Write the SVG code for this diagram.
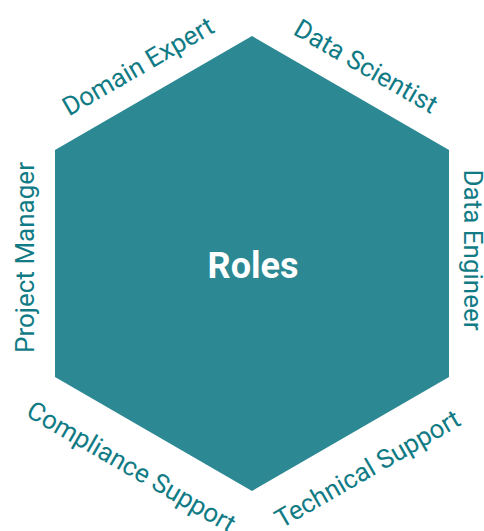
<svg xmlns="http://www.w3.org/2000/svg" width="484" height="531" viewBox="0 0 484 531">
<style>
.lbl{font-family:Roboto,"Liberation Sans",sans-serif;font-size:26px;fill:#117b85;text-anchor:middle}
.ctr{font-family:Roboto,"Liberation Sans",sans-serif;font-size:36px;font-weight:bold;fill:#ffffff;text-anchor:middle}
</style>
<rect width="484" height="531" fill="#ffffff"/>
<g id="roles">
<polygon points="252,36 449,150 449,377 252,491 55,377 55,150" fill="#2c8893"/>
<text class="ctr" x="253" y="278">Roles</text>
</g>
<g id="connectors"></g>
<g id="domain-expert"><text class="lbl" transform="translate(142.5,74) rotate(-30)">Domain Expert</text></g>
<g id="data-scientist"><text class="lbl" transform="translate(361.5,74) rotate(30)">Data Scientist</text></g>
<g id="data-engineer"><text class="lbl" transform="translate(464,250) rotate(90)">Data Engineer</text></g>
<g id="technical-support"><text class="lbl" transform="translate(372,476.5) rotate(-30)">Technical Support</text></g>
<g id="compliance-support"><text class="lbl" transform="translate(127,474.5) rotate(30)">Compliance Support</text></g>
<g id="project-manager"><text class="lbl" transform="translate(34,257.5) rotate(-90)">Project Manager</text></g>
</svg>
